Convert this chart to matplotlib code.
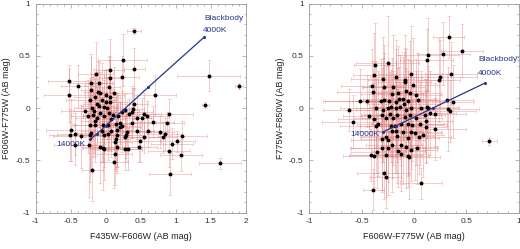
import matplotlib
matplotlib.use("Agg")
import matplotlib.pyplot as plt
from matplotlib.ticker import MultipleLocator, FuncFormatter

plt.rcParams['font.family'] = ['Liberation Sans', 'DejaVu Sans']

# ---------------- Left panel data ----------------
x_left = [0.41, 0.24, 0.41, 1.47, 1.90, -0.52, -0.39, -0.53, 0.06, 0.06,
          -0.14, -0.10, -0.21, -0.21, -0.22, -0.11, -0.08, 0.01, 0.06, -0.16,
          0.71, 1.42, 0.23, -0.05, 0.00, 0.06, -0.10, -0.03, 0.02, 0.41,
          0.39, 0.37, 0.27, 0.23, -0.17, -0.08, -0.29, -0.25, -0.18, -0.12,
          0.04, 0.10, 0.18, 0.33, 0.54, 0.59, 0.52, 0.90, -0.15, -0.23,
          -0.15, -0.04, 0.03, 0.14, 0.21, 0.23, 0.37, 0.45, 0.67, 0.87,
          -0.50, -0.21, -0.06, 0.08, 0.16, 0.30, 0.44, 0.60, 0.77, 0.84,
          -0.51, -0.44, -0.36, -0.22, -0.02, 0.03, 0.16, 0.27, 0.29, 0.54,
          0.82, 1.09, 1.02, 0.94, 0.14, 0.13, 0.49, -0.24, 0.48, -0.44,
          -0.08, -0.04, -0.03, 0.16, 0.27, 0.32, 0.90, 0.13, 1.07, 0.12,
          1.63, -0.19, 0.92, -0.13, 0.12, -0.02, 0.08, -0.20, 0.20, 0.05]
y_left = [0.74, 0.46, 0.37, 0.31, 0.21, 0.26, 0.21, 0.12, 0.36, 0.29,
          0.33, 0.24, 0.24, 0.17, 0.08, 0.15, 0.14, 0.12, 0.11, 0.11,
          0.12, 0.03, 0.30, 0.08, 0.06, 0.06, 0.02, 0.01, 0.00, 0.04,
          -0.01, -0.04, -0.02, -0.04, -0.03, -0.05, -0.03, -0.08, -0.07, -0.10,
          -0.05, -0.07, -0.08, -0.06, -0.06, -0.08, -0.10, -0.06, -0.12, -0.16,
          -0.16, -0.16, -0.16, -0.15, -0.14, -0.17, -0.14, -0.10, -0.13, -0.14,
          -0.21, -0.24, -0.22, -0.22, -0.21, -0.23, -0.22, -0.22, -0.23, -0.25,
          -0.26, -0.25, -0.27, -0.26, -0.26, -0.25, -0.26, -0.28, -0.26, -0.28,
          -0.28, -0.27, -0.32, -0.34, -0.30, -0.33, -0.32, -0.35, -0.37, -0.35,
          -0.37, -0.38, -0.39, -0.37, -0.39, -0.39, -0.41, -0.44, -0.45, -0.52,
          -0.53, -0.59, -0.63, 0.04, 0.14, -0.08, -0.11, 0.00, -0.18, 0.20]
xerr_left = [0.10, 0.35, 0.15, 0.45, 0.06, 0.30, 0.25, 0.35, 0.20, 0.15,
             0.25, 0.20, 0.30, 0.15, 0.35, 0.20, 0.10, 0.25, 0.15, 0.30,
             0.30, 0.05, 0.25, 0.20, 0.30, 0.15, 0.25, 0.20, 0.35, 0.20,
             0.15, 0.30, 0.20, 0.25, 0.30, 0.20, 0.35, 0.25, 0.15, 0.30,
             0.20, 0.25, 0.30, 0.20, 0.25, 0.30, 0.15, 0.35, 0.20, 0.25,
             0.30, 0.15, 0.25, 0.20, 0.30, 0.25, 0.35, 0.20, 0.30, 0.25,
             0.35, 0.20, 0.30, 0.25, 0.20, 0.35, 0.25, 0.30, 0.20, 0.25,
             0.30, 0.25, 0.40, 0.20, 0.35, 0.25, 0.20, 0.30, 0.25, 0.30,
             0.20, 0.35, 0.25, 0.30, 0.20, 0.25, 0.30, 0.20, 0.25, 0.30,
             0.25, 0.30, 0.20, 0.35, 0.25, 0.20, 0.30, 0.25, 0.30, 0.20,
             0.30, 0.15, 0.30, 0.20, 0.25, 0.30, 0.20, 0.25, 0.30, 0.15]
yerr_left = [0.03, 0.25, 0.20, 0.15, 0.03, 0.15, 0.20, 0.25, 0.30, 0.20,
             0.30, 0.20, 0.25, 0.35, 0.15, 0.30, 0.20, 0.25, 0.35, 0.20,
             0.20, 0.03, 0.20, 0.35, 0.30, 0.25, 0.20, 0.35, 0.30, 0.15,
             0.20, 0.25, 0.15, 0.20, 0.40, 0.30, 0.25, 0.35, 0.40, 0.30,
             0.35, 0.25, 0.20, 0.15, 0.20, 0.15, 0.20, 0.15, 0.40, 0.45,
             0.30, 0.35, 0.25, 0.30, 0.20, 0.25, 0.15, 0.20, 0.15, 0.10,
             0.30, 0.35, 0.30, 0.25, 0.35, 0.20, 0.15, 0.15, 0.15, 0.15,
             0.25, 0.20, 0.30, 0.45, 0.30, 0.25, 0.30, 0.20, 0.25, 0.15,
             0.15, 0.15, 0.10, 0.15, 0.30, 0.25, 0.20, 0.50, 0.15, 0.20,
             0.35, 0.40, 0.30, 0.25, 0.20, 0.20, 0.15, 0.30, 0.15, 0.25,
             0.05, 0.30, 0.20, 0.30, 0.25, 0.35, 0.30, 0.30, 0.20, 0.30]

bb_x_left = [-0.22, -0.13, 0.00, 0.25, 0.61, 1.41]
bb_y_left = [-0.30, -0.25, -0.17, -0.02, 0.20, 0.68]

# ---------------- Right panel data ----------------
x_right = [0.33, 0.46, 0.28, 0.13, 0.12, -0.37, -0.25, 0.35, 0.25, 0.24,
           -0.03, -0.17, -0.38, -0.09, -0.09, -0.40, -0.29, -0.39, -0.01, -0.20,
           -0.08, -0.21, -0.15, -0.14, -0.11, -0.04, 0.02, -0.52, -0.32, -0.29,
           -0.24, -0.17, -0.06, 0.04, 0.12, 0.31, 0.37, 0.32, 0.34, -0.62,
           -0.58, -0.36, -0.30, -0.25, -0.22, -0.17, -0.13, -0.08, -0.03, 0.07,
           0.13, -0.43, -0.38, -0.31, -0.27, -0.23, -0.16, -0.09, -0.04, 0.02,
           0.10, 0.20, 0.11, -0.36, -0.34, -0.22, -0.18, -0.12, -0.06, -0.02,
           0.06, 0.11, 0.20, -0.21, -0.17, -0.11, -0.03, 0.01, 0.09, 0.05,
           -0.16, -0.27, -0.06, -0.31, -0.25, -0.21, -0.12, -0.08, -0.03, 0.03,
           -0.31, -0.25, -0.15, -0.06, -0.05, -0.12, -0.27, -0.41, -0.38, -0.35,
           0.07, -0.29, -0.27, -0.39, 0.72, -0.45, -0.20, 0.15, -0.10, -0.30]
y_right = [0.68, 0.55, 0.52, 0.51, 0.46, 0.41, 0.43, 0.33, 0.30, 0.27,
           0.33, 0.30, 0.32, 0.27, 0.25, 0.21, 0.20, 0.15, 0.22, 0.20,
           0.16, 0.13, 0.14, 0.09, 0.09, 0.14, 0.12, 0.07, 0.07, 0.08,
           0.07, 0.06, 0.07, 0.08, 0.01, 0.08, 0.06, -0.01, -0.03, -0.02,
           -0.13, 0.00, -0.02, 0.00, 0.01, 0.00, 0.01, -0.02, 0.00, 0.00,
           0.00, -0.08, -0.11, -0.07, -0.10, -0.06, -0.07, -0.09, -0.07, -0.10,
           -0.07, -0.06, -0.12, -0.17, -0.15, -0.17, -0.17, -0.15, -0.15, -0.16,
           -0.15, -0.18, -0.20, -0.22, -0.22, -0.23, -0.23, -0.24, -0.26, -0.28,
           -0.27, -0.28, -0.29, -0.30, -0.31, -0.35, -0.35, -0.37, -0.40, -0.38,
           -0.38, -0.38, -0.41, -0.46, -0.47, -0.44, -0.45, -0.45, -0.46, -0.42,
           -0.72, -0.62, -0.66, -0.78, -0.32, 0.07, -0.10, -0.05, 0.04, 0.28]
xerr_right = [0.15, 0.20, 0.25, 0.30, 0.25, 0.20, 0.30, 0.25, 0.35, 0.20,
              0.30, 0.25, 0.20, 0.35, 0.25, 0.30, 0.20, 0.35, 0.25, 0.30,
              0.20, 0.30, 0.25, 0.35, 0.20, 0.30, 0.25, 0.35, 0.30, 0.20,
              0.25, 0.30, 0.35, 0.20, 0.30, 0.25, 0.20, 0.30, 0.25, 0.25,
              0.30, 0.35, 0.25, 0.30, 0.20, 0.35, 0.25, 0.30, 0.20, 0.25,
              0.30, 0.25, 0.35, 0.20, 0.30, 0.25, 0.35, 0.20, 0.30, 0.25,
              0.20, 0.30, 0.25, 0.35, 0.20, 0.30, 0.25, 0.20, 0.35, 0.30,
              0.25, 0.20, 0.30, 0.35, 0.25, 0.20, 0.30, 0.25, 0.20, 0.30,
              0.35, 0.25, 0.30, 0.20, 0.35, 0.25, 0.20, 0.30, 0.25, 0.20,
              0.30, 0.35, 0.25, 0.20, 0.30, 0.25, 0.35, 0.20, 0.30, 0.25,
              0.20, 0.25, 0.15, 0.10, 0.07, 0.40, 0.30, 0.25, 0.35, 0.30]
yerr_right = [0.20, 0.25, 0.30, 0.35, 0.30, 0.40, 0.45, 0.30, 0.35, 0.40,
              0.45, 0.35, 0.40, 0.30, 0.45, 0.35, 0.40, 0.30, 0.45, 0.50,
              0.40, 0.35, 0.45, 0.30, 0.40, 0.50, 0.35, 0.30, 0.40, 0.45,
              0.35, 0.50, 0.40, 0.45, 0.30, 0.25, 0.35, 0.40, 0.30, 0.20,
              0.25, 0.45, 0.50, 0.40, 0.35, 0.45, 0.50, 0.40, 0.45, 0.35,
              0.40, 0.30, 0.35, 0.45, 0.50, 0.40, 0.45, 0.35, 0.40, 0.45,
              0.35, 0.30, 0.40, 0.45, 0.50, 0.35, 0.45, 0.40, 0.50, 0.35,
              0.40, 0.35, 0.30, 0.45, 0.40, 0.50, 0.35, 0.45, 0.40, 0.35,
              0.45, 0.40, 0.35, 0.50, 0.40, 0.45, 0.35, 0.40, 0.30, 0.35,
              0.40, 0.45, 0.35, 0.30, 0.40, 0.35, 0.40, 0.25, 0.30, 0.35,
              0.15, 0.25, 0.30, 0.20, 0.03, 0.25, 0.45, 0.40, 0.50, 0.40]

bb_x_right = [-0.30, -0.17, 0.18, 0.68]
bb_y_right = [-0.23, -0.17, 0.00, 0.24]

# ---------------- Figure ----------------
W, H = 520, 249
fig = plt.figure(figsize=(W / 100, H / 100), dpi=100)

FS = 6.0
ERRC = '#e07a7a'
BBC = '#26368a'
FRAME = '#9a9a9a'


def fmt(v, pos):
    if abs(v - round(v)) < 1e-9:
        return '%d' % round(v)
    return '%g' % v


def style(ax, xlim, ylim, xlabel, ylabel):
    ax.set_xlim(*xlim)
    ax.set_ylim(*ylim)
    ax.xaxis.set_major_locator(MultipleLocator(0.5))
    ax.xaxis.set_minor_locator(MultipleLocator(0.1))
    ax.yaxis.set_major_locator(MultipleLocator(0.5))
    ax.yaxis.set_minor_locator(MultipleLocator(0.1))
    ax.tick_params(which='both', direction='in', top=True, right=True,
                   color=FRAME, labelsize=FS, labelcolor='#333333', width=0.5)
    ax.tick_params(which='major', length=3, pad=4)
    ax.tick_params(which='minor', length=1.5)
    for s in ax.spines.values():
        s.set_color(FRAME)
        s.set_linewidth(0.6)
    ax.set_xlabel(xlabel, fontsize=FS + 0.5, color='#222222', labelpad=5)
    ax.set_ylabel(ylabel, fontsize=FS + 0.5, color='#222222', labelpad=3)
    ax.xaxis.set_major_formatter(FuncFormatter(fmt))
    ax.yaxis.set_major_formatter(FuncFormatter(fmt))


def panel(ax, xs, ys, xe, ye, bbx, bby):
    ax.errorbar(xs, ys, xerr=xe, yerr=ye, fmt='none', ecolor=ERRC,
                elinewidth=0.6, capsize=1.2, capthick=0.5, alpha=0.45, zorder=1)
    ax.plot(xs, ys, 'o', color='black', markersize=1.8, zorder=3)
    ax.plot(bbx, bby, '-', color=BBC, linewidth=0.9, zorder=4)
    ax.plot(bbx, bby, 'o', color=BBC, markersize=1.2, zorder=5)


ax1 = fig.add_axes([35.7 / W, 1 - 212.5 / H, 210 / W, 209 / H])
panel(ax1, x_left, y_left, xerr_left, yerr_left, bb_x_left, bb_y_left)
style(ax1, (-1, 2), (-1, 1), 'F435W-F606W (AB mag)', 'F606W-F775W (AB mag)')
ax1.text(1.41, 0.86, 'Blackbody', color=BBC, fontsize=FS, ha='left', va='center')
ax1.text(1.39, 0.745, '4000K', color=BBC, fontsize=FS, ha='left', va='center')
ax1.text(-0.71, -0.345, '14000K', color=BBC, fontsize=FS, ha='left', va='center')

ax2 = fig.add_axes([309.3 / W, 1 - 212.5 / H, 209.5 / W, 209 / H])
panel(ax2, x_right, y_right, xerr_right, yerr_right, bb_x_right, bb_y_right)
style(ax2, (-1, 1), (-1, 1), 'F606W-F775W (AB mag)', 'F775W-F850W (AB mag)')
ax2.text(0.61, 0.46, 'Blackbody:', color=BBC, fontsize=FS, ha='left', va='center')
ax2.text(0.61, 0.33, '4000K', color=BBC, fontsize=FS, ha='left', va='center')
ax2.text(-0.61, -0.255, '14000K', color=BBC, fontsize=FS, ha='left', va='center')

fig.savefig('out.png', dpi=100)
